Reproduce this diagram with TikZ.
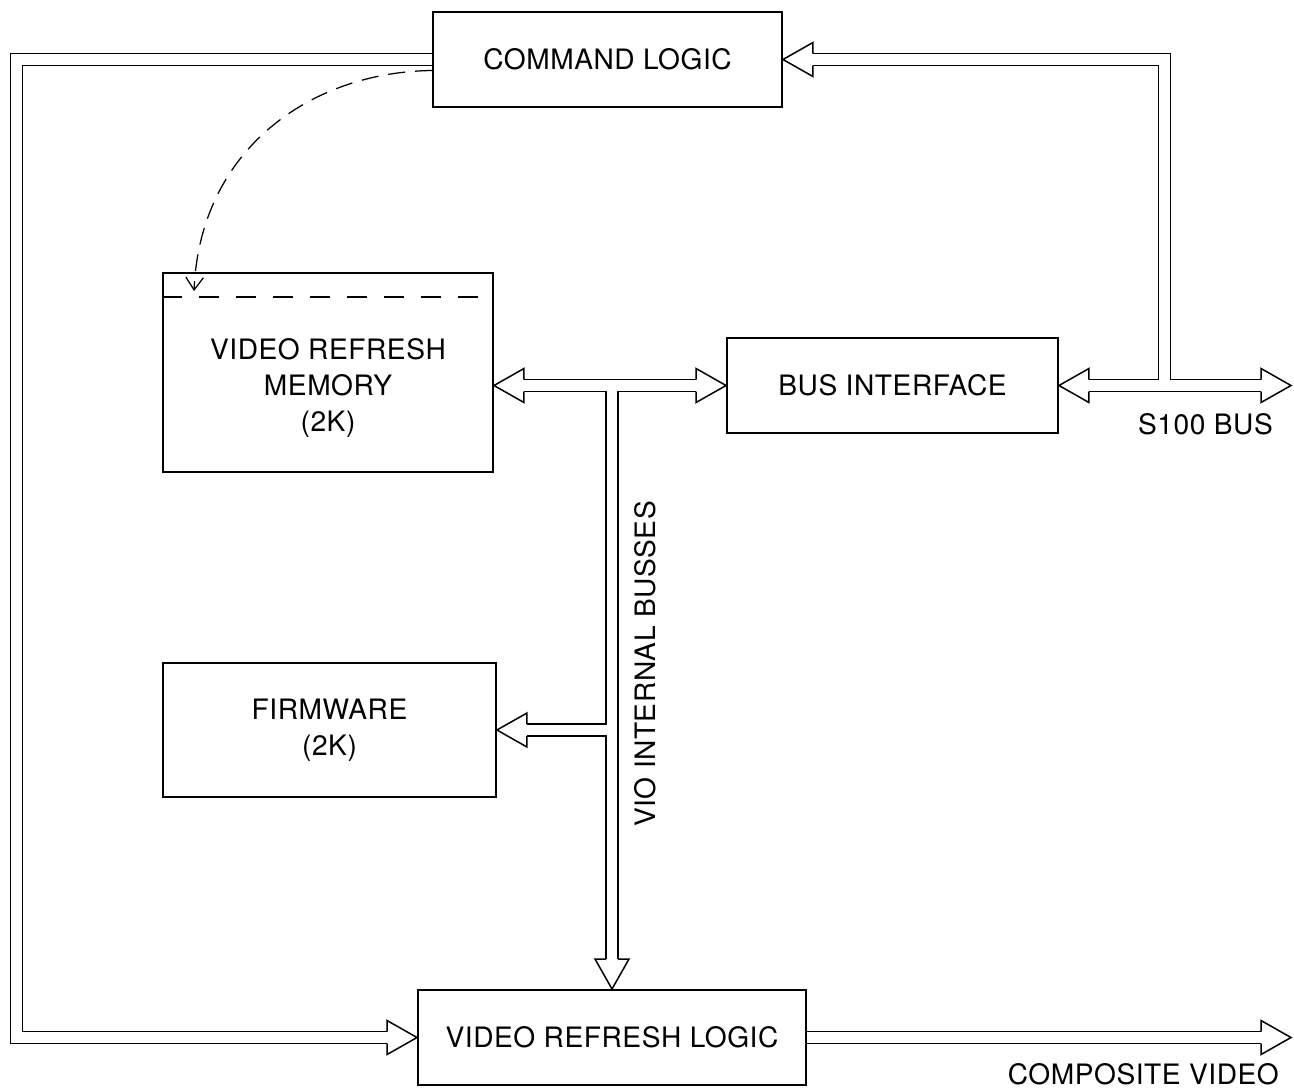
\documentclass[tikz,border=0pt]{standalone}
\usepackage{fontspec}
\setmainfont[LetterSpace=2]{TeX Gyre Heros}
\usetikzlibrary{positioning, arrows.meta, calc}

\begin{document}
\begin{tikzpicture}[
	x=0.02cm, y=-0.02cm,
	font=\fontsize{16}{20.5}\selectfont,
	% Define styles for the blocks
	block/.style={
		draw=black,
		line width=0.04cm,
		inner sep=0pt,
		align=center
	},
	bus/.style={
		draw=black,
		line width=0.03cm,
		double=white,
		double distance=0.21cm
	},
	bushead/.pic={
		\draw[line width=0.03cm, line join=miter]
		(-0.6cm,0.12cm) -- (-0.6cm,0.34cm) -- (0,0) -- (-0.6cm,-0.34cm) -- (-0.6cm,-0.12cm);
	},
	label_text/.style={
		align=center
	}
	]
	\useasboundingbox (0,0) rectangle (1294,1089);
	
	% --- 1. BLOCKS ---
	\node[block, minimum width=6.98cm, minimum height=1.9cm] (cmd) at (607.5,59.5) {COMMAND LOGIC};
	\node[block, minimum width=6.6cm, minimum height=3.98cm] (mem) at (328,372.5) {};
	\node[label_text] (memtext) at ([yshift=-0.3cm]mem.center) {VIDEO REFRESH\\MEMORY\\(2K)};
	\node[block, minimum width=6.62cm, minimum height=1.9cm] (bus) at (892.5,385.5) {BUS INTERFACE};
	\node[block, minimum width=6.66cm, minimum height=2.68cm] (fw) at (329.5,730) {FIRMWARE\\(2K)};
	\node[block, minimum width=7.76cm, minimum height=1.9cm] (vrl) at (612,1037.5) {VIDEO REFRESH LOGIC};
	
	% Dashed band in the memory
	\draw[dash pattern=on 0.4cm off 0.34cm, line width=0.04cm]
	([yshift=-0.5cm]mem.north west) -- ([yshift=-0.5cm]mem.north east);
	
	% --- 2. BUS END POINTS ---
	\coordinate (lcorner) at (16.5,1037.5);
	\coordinate (rcorner) at (1164.5,59.5);
	\coordinate (s100tip) at (1291,385.5);
	\coordinate (cvtip) at (1291,1037.5);
	\coordinate (memdash) at ([xshift=0.64cm, yshift=-0.38cm]mem.north west);
	
	% --- 3. BUSSES ---
	% S100 bus and branch to command logic
	\draw[bus, shorten <=0.6cm, shorten >=0.6cm] (bus.east) -- (s100tip);
	\draw[bus, shorten >=0.6cm] ([yshift=0.105cm]rcorner |- bus.east) -- (rcorner) -- (cmd.east);
	
	% Command logic to video refresh logic
	\draw[bus, shorten >=0.6cm] (cmd.west) -| (lcorner) -- (vrl.west);
	
	% VIO internal busses
	\draw[bus, shorten <=0.6cm, shorten >=0.6cm] (mem.east |- bus.west) -- (bus.west);
	\draw[bus, shorten >=0.6cm] ([yshift=-0.105cm]vrl.north |- bus.west) -- (vrl.north);
	\draw[bus, shorten >=0.6cm] ([xshift=-0.105cm]vrl.north |- fw.east) -- (fw.east);
	
	% Composite video out
	\draw[bus, shorten >=0.6cm] (vrl.east) -- (cvtip);
	
	% Arrow heads
	\pic[rotate=180] at (cmd.east) {bushead};
	\pic at (vrl.west) {bushead};
	\pic at (cvtip) {bushead};
	\pic[rotate=180] at (bus.east) {bushead};
	\pic at (s100tip) {bushead};
	\pic[rotate=180] at (mem.east |- bus.west) {bushead};
	\pic at (bus.west) {bushead};
	\pic[rotate=-90] at (vrl.north) {bushead};
	\pic[rotate=180] at (fw.east) {bushead};
	
	% --- 4. COMMAND TO MEMORY ---
	\draw[dash pattern=on 0.34cm off 0.2cm, line width=0.025cm, -{Straight Barb[length=2.5mm, width=3.5mm]}]
	([yshift=-0.22cm]cmd.west) .. controls (310,72) and (200,150) .. (memdash);
	
	% --- 5. LABELS ---
	\node[anchor=east] (s100lbl) at (1279,424) {S100 BUS};
	\node[anchor=east] (cvlbl) at (1285,1074) {COMPOSITE VIDEO};
	\node[rotate=90] (violbl) at (645,664) {VIO INTERNAL BUSSES};
	
\end{tikzpicture}
\end{document}
